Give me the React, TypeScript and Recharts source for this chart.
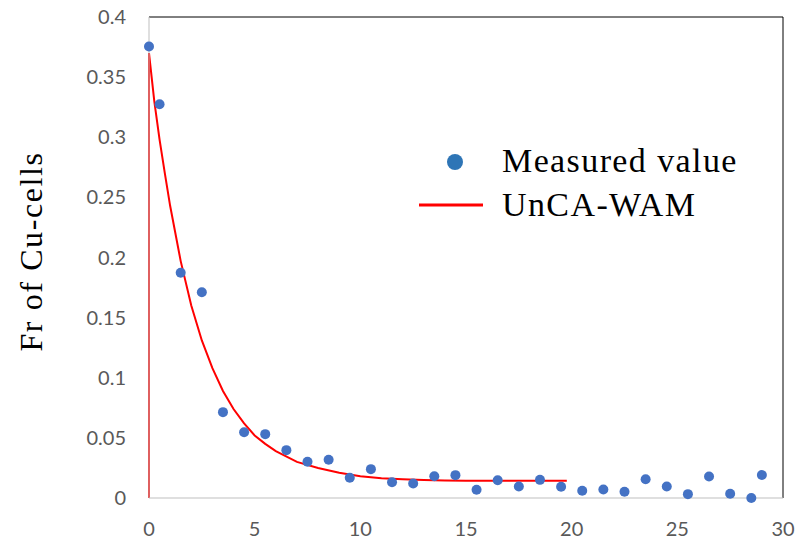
import React from 'react'
import {
  ComposedChart,
  Scatter,
  Line,
  XAxis,
  YAxis,
  ReferenceLine,
  Legend,
} from 'recharts'

// measured points (x, Fr of Cu-cells)
const measuredX = [
  0, 0.5, 1.5, 2.5, 3.5, 4.5, 5.5, 6.5, 7.5, 8.5, 9.5, 10.5, 11.5, 12.5, 13.5,
  14.5, 15.5, 16.5, 17.5, 18.5, 19.5, 20.5, 21.5, 22.5, 23.5, 24.5, 25.5, 26.5,
  27.5, 28.5, 29,
]
const measuredY = [
  0.3755, 0.3275, 0.1873, 0.1711, 0.0714, 0.0547, 0.0531, 0.0398, 0.0301, 0.0318,
  0.0168, 0.024, 0.0131, 0.0121, 0.0181, 0.019, 0.0068, 0.0147, 0.0096, 0.0151,
  0.0093, 0.006, 0.007, 0.0052, 0.0156, 0.0096, 0.0032, 0.0179, 0.0035, 0.0,
  0.0191,
]

// UnCA-WAM curve
const modelX = [
  0, 0, 0.25, 0.5, 0.75, 1, 1.5, 2, 2.5, 3, 3.5, 4, 4.5, 5, 5.5, 6, 7, 8, 9, 10,
  11, 12, 13, 14, 15, 16, 17, 18, 19.77,
]
const modelY = [
  0, 0.37, 0.33, 0.298, 0.27, 0.243, 0.197, 0.16, 0.131, 0.108, 0.089, 0.074,
  0.062, 0.052, 0.045, 0.039, 0.03, 0.025, 0.021, 0.018, 0.0165, 0.0156, 0.015,
  0.0146, 0.0144, 0.0143, 0.0143, 0.0143, 0.0143,
]

const xTicks = [0, 5, 10, 15, 20, 25, 30]
const yTicks = [0, 0.05, 0.1, 0.15, 0.2, 0.25, 0.3, 0.35, 0.4]

const measured = measuredX.map((x, i) => ({ x, y: measuredY[i] }))
const model = modelX.map((x, i) => ({ x, y: modelY[i] }))

const tickStyle = { fontSize: 20, fontFamily: 'Lato', fill: '#595959' }
const serif = 'Liberation Serif, Times New Roman, serif'

function LegendBox() {
  return (
    <svg width={340} height={90}>
      <circle cx={45} cy={22} r={8} fill="#2E75B6" />
      <text
        x={92}
        y={32}
        fontFamily={serif}
        fontSize={34}
        letterSpacing={1.4}
        fill="#000"
      >
        Measured value
      </text>
      <line x1={9} y1={65} x2={73} y2={65} stroke="#FF0000" strokeWidth={3} />
      <text
        x={92}
        y={76}
        fontFamily={serif}
        fontSize={34}
        letterSpacing={1.4}
        fill="#000"
      >
        UnCA-WAM
      </text>
    </svg>
  )
}

export default function App() {
  return (
    <div style={{ position: 'absolute', left: 0, top: 0, background: '#fff' }}>
      <ComposedChart
        width={806}
        height={540}
        margin={{ top: 17, right: 23, bottom: 12, left: 59 }}
      >
        <XAxis
          dataKey="x"
          type="number"
          domain={[0, 30]}
          ticks={xTicks}
          tick={tickStyle}
          tickLine={false}
          tickMargin={18}
          axisLine={{ stroke: '#BFBFBF', strokeWidth: 1 }}
          height={30}
        />
        <YAxis
          dataKey="y"
          type="number"
          domain={[0, 0.4]}
          ticks={yTicks}
          tick={tickStyle}
          tickFormatter={(v: number) => String(v)}
          tickLine={false}
          tickMargin={17}
          axisLine={{ stroke: '#BFBFBF', strokeWidth: 1 }}
          width={90}
          label={{
            value: 'Fr of Cu-cells',
            angle: -90,
            position: 'insideLeft',
            dx: -33,
            dy: -6,
            style: {
              fontFamily: serif,
              fontSize: 32,
              letterSpacing: 1.6,
              fill: '#000',
              textAnchor: 'middle',
            },
          }}
        />
        <ReferenceLine y={0.4} stroke="#000" strokeWidth={1} />
        <ReferenceLine x={30} stroke="#000" strokeWidth={1} />
        <Scatter
          data={measured}
          isAnimationActive={false}
          shape={(p: any) => <circle cx={p.cx} cy={p.cy} r={5} fill="#4472C4" />}
        />
        <Line
          data={model}
          dataKey="y"
          type="linear"
          stroke="#FF0000"
          strokeWidth={2}
          dot={false}
          activeDot={false}
          isAnimationActive={false}
        />
        <Legend
          layout="vertical"
          align="center"
          verticalAlign="middle"
          wrapperStyle={{ left: 410, top: 140, width: 340, height: 90 }}
          content={() => <LegendBox />}
        />
      </ComposedChart>
    </div>
  )
}
